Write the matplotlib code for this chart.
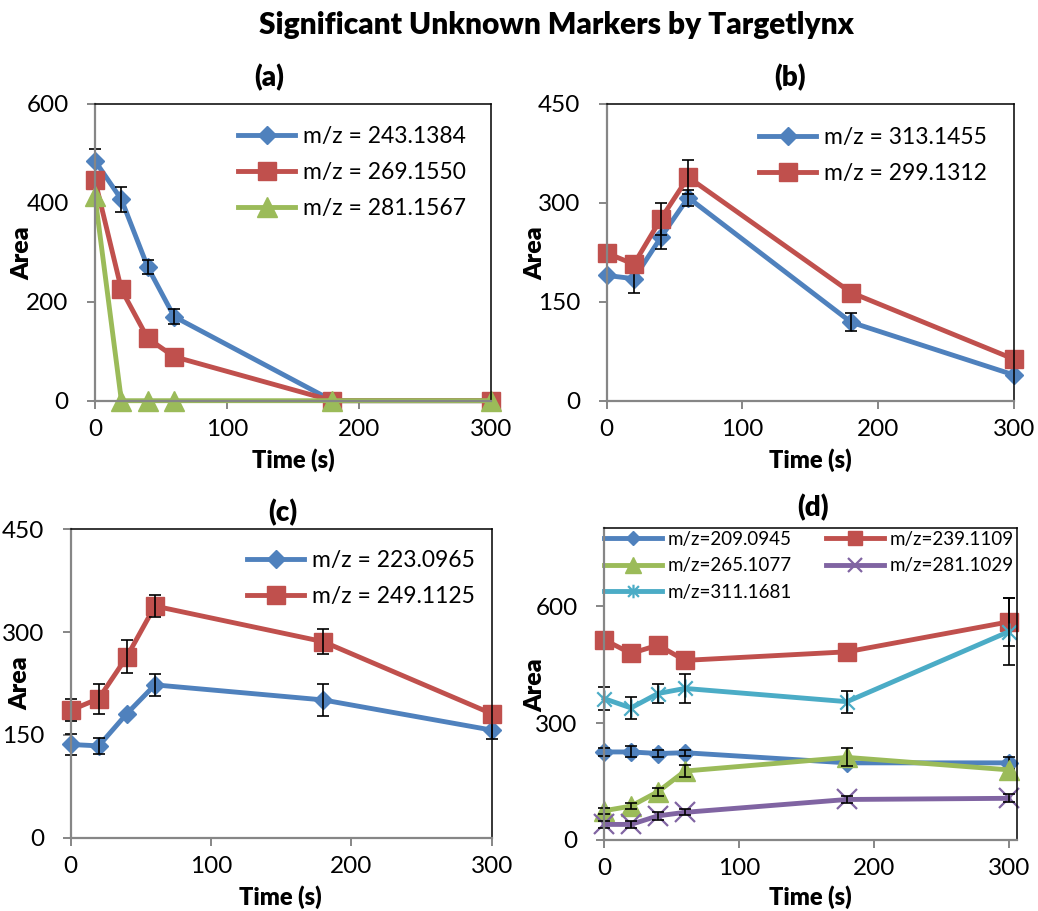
import matplotlib
matplotlib.use("Agg")
import matplotlib.pyplot as plt
from matplotlib.path import Path

plt.rcParams['font.family'] = ['Lato', 'DejaVu Sans']

W, H = 1038, 911
DPI = 100

time_s = [0, 20, 40, 60, 180, 300]

# (a)
a_labels = ["m/z = 243.1384", "m/z = 269.1550", "m/z = 281.1567"]
a_vals = [
    [485, 407, 270, 170, 0, 0],
    [446, 225, 126, 89, 0, 0],
    [413, 0, 0, 0, 0, 0],
]
a_err = [
    [24, 25, 14, 15, 0, 0],
    [0, 0, 0, 0, 0, 0],
    [0, 0, 0, 0, 0, 0],
]

# (b)
b_labels = ["m/z = 313.1455", "m/z = 299.1312"]
b_vals = [
    [190, 185, 248, 308, 119, 39],
    [224, 207, 276, 339, 164, 63],
]
b_err = [
    [0, 21, 18, 12, 14, 0],
    [0, 0, 24, 26, 0, 0],
]

# (c)
c_labels = ["m/z = 223.0965", "m/z = 249.1125"]
c_vals = [
    [136, 134, 181, 223, 201, 157],
    [186, 203, 264, 338, 286, 181],
]
c_err = [
    [15, 12, 0, 16, 24, 13],
    [16, 22, 24, 16, 18, 0],
]

# (d)
d_labels = ["m/z=209.0945", "m/z=239.1109", "m/z=265.1077",
            "m/z=281.1029", "m/z=311.1681"]
d_vals = [
    [226, 226, 222, 224, 198, 198],
    [514, 479, 500, 461, 483, 560],
    [75, 87, 124, 177, 212, 180],
    [40, 40, 62, 71, 104, 107],
    [363, 339, 376, 389, 355, 535],
]
d_err = [
    [10, 14, 8, 8, 10, 15],
    [0, 0, 0, 0, 0, 62],
    [8, 8, 10, 15, 23, 0],
    [10, 10, 10, 8, 10, 10],
    [30, 28, 24, 38, 28, 85],
]

BLUE = '#4F81BD'
RED = '#C0504D'
GREEN = '#9BBB59'
PURPLE = '#8064A2'
CYAN = '#4BACC6'
AXGRAY = '#868686'

# Excel-style star: an X crossed by a vertical stroke
star = Path(
    [(-1, -1), (1, 1), (-1, 1), (1, -1), (0, -1.25), (0, 1.25)],
    [Path.MOVETO, Path.LINETO, Path.MOVETO, Path.LINETO, Path.MOVETO, Path.LINETO],
)

fig = plt.figure(figsize=(W / DPI, H / DPI), dpi=DPI)


def px_axes(left, top, right, bottom):
    return fig.add_axes([left / W, 1 - bottom / H, (right - left) / W, (bottom - top) / H])


def style_axes(ax, xlim, ylim, yticks):
    ax.set_xlim(*xlim)
    ax.set_ylim(*ylim)
    ax.set_xticks([0, 100, 200, 300])
    ax.set_yticks(yticks)
    for s in ('left', 'bottom'):
        ax.spines[s].set_color(AXGRAY)
        ax.spines[s].set_linewidth(1.6)
    for s in ('top', 'right'):
        ax.spines[s].set_color('black')
        ax.spines[s].set_linewidth(1.1)
    ax.tick_params(axis='both', direction='out', length=6, width=1.4,
                   color=AXGRAY, labelsize=17.5, labelcolor='black')
    ax.tick_params(axis='x', pad=7)
    ax.tick_params(axis='y', pad=13)
    for s in ax.spines.values():
        s.set_zorder(30)


def draw(ax, vals, errs, colors, markers, sizes):
    # each series is drawn with its own error bars; later series sit on top
    handles = []
    for i, (v, e, c, m, ms) in enumerate(zip(vals, errs, colors, markers, sizes)):
        hollow = (m is star) or m == 'x'
        mfc = 'none' if hollow else c
        mew = 1.6 if hollow else 1.0
        z = 3 + 2 * i
        h, = ax.plot(time_s, v, color=c, lw=3.5, marker=m, ms=ms, mfc=mfc, mec=c,
                     mew=mew, zorder=z, clip_on=False, solid_joinstyle='round')
        keep = [k for k, ek in enumerate(e) if ek > 0]
        if keep:
            ax.errorbar([time_s[k] for k in keep], [v[k] for k in keep],
                        yerr=[e[k] for k in keep], fmt='none', ecolor='black',
                        elinewidth=1.2, capsize=4.2, capthick=1.2, zorder=z + 1,
                        clip_on=False)
        handles.append(h)
    return handles


# Panel (a)
axa = px_axes(95, 104, 490.7, 400.7)
style_axes(axa, (0, 300), (0, 600), [0, 200, 400, 600])
ha = draw(axa, a_vals, a_err, [BLUE, RED, GREEN], ['D', 's', '^'], [9.4, 13.2, 14.5])

# Panel (b)
axb = px_axes(606.7, 104, 1014, 400.7)
style_axes(axb, (0, 300), (0, 450), [0, 150, 300, 450])
hb = draw(axb, b_vals, b_err, [BLUE, RED], ['D', 's'], [9.4, 13.2])

# Panel (c)
axc = px_axes(70.7, 529.3, 491.7, 837.7)
style_axes(axc, (0, 300), (0, 450), [0, 150, 300, 450])
hc = draw(axc, c_vals, c_err, [BLUE, RED], ['D', 's'], [9.4, 13.2])

# Panel (d)
axd = px_axes(604, 528.3, 1016.7, 840)
style_axes(axd, (0, 305.7), (0, 800), [0, 300, 600])
hd = draw(axd, d_vals, d_err, [BLUE, RED, GREEN, PURPLE, CYAN],
          ['D', 's', '^', 'x', star], [9, 13.2, 14.5, 14, 13])

# Legends
big_leg = dict(frameon=False, fontsize=16.5, handlelength=2.5, handletextpad=0.35,
               labelspacing=0.66, borderpad=0, borderaxespad=0, numpoints=1)


def fig_anchor(ax, x, y):
    inv = ax.transAxes.inverted()
    return tuple(inv.transform(fig.transFigure.transform((x / W, 1 - y / H))))


axa.legend(ha, a_labels, loc='upper left', bbox_to_anchor=fig_anchor(axa, 238, 126), **big_leg)
axb.legend(hb, b_labels, loc='upper left', bbox_to_anchor=fig_anchor(axb, 759, 127), **big_leg)
axc.legend(hc, c_labels, loc='upper left', bbox_to_anchor=fig_anchor(axc, 247, 550), **big_leg)

# two columns filled row by row
order = [0, 2, 4, 1, 3]
axd.legend([hd[i] for i in order], [d_labels[i] for i in order],
           loc='upper left', bbox_to_anchor=fig_anchor(axd, 604, 531),
           ncol=2, frameon=False, fontsize=13.5, handlelength=3.1, handletextpad=0.3,
           columnspacing=1.8, labelspacing=0.5, borderpad=0, borderaxespad=0,
           numpoints=1, markerscale=0.75)


def ftext(x, y, s, **kw):
    fig.text(x / W, 1 - y / H, s, ha='center', va='center', **kw)


ftext(556, 25, "Significant Unknown Markers by Targetlynx", fontsize=21.5, fontweight='heavy')
ftext(269, 78, "(a)", fontsize=20, fontweight='heavy')
ftext(790, 78, "(b)", fontsize=20, fontweight='heavy')
ftext(283, 513, "(c)", fontsize=20, fontweight='heavy')
ftext(813, 508, "(d)", fontsize=20, fontweight='heavy')

for x, y in [(22, 253), (535, 253), (20, 683), (535, 685)]:
    ftext(x, y, "Area", fontsize=18, fontweight='heavy', rotation=90)
for x, y in [(293, 460), (810, 460), (280, 897), (810, 897)]:
    ftext(x, y, "Time (s)", fontsize=17, fontweight='heavy')

fig.savefig("out.png", dpi=DPI)
